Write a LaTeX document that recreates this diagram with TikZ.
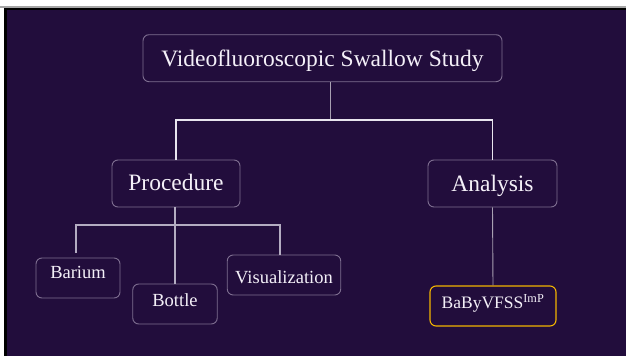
\documentclass[tikz,border=0pt]{standalone}
\usepackage{fontspec}
\setmainfont{Liberation Serif}
\definecolor{bgpurple}{HTML}{220D3C}
\definecolor{boxline}{HTML}{7E6E90}
\definecolor{wire}{HTML}{E8E4EE}
\definecolor{wiresoft}{HTML}{B4ACC2}
\definecolor{wiregray}{HTML}{A8A0B2}
\definecolor{gold}{HTML}{F2B400}
\definecolor{txt}{HTML}{F4F0F8}
\tikzset{
  box/.style={draw=boxline, line width=0.9pt, rounded corners=6pt, fill=bgpurple,
    text=txt, inner sep=0pt, align=center},
  bigbox/.style={box, minimum height=47pt, font=\fontsize{23.5}{26}\selectfont,
    text height=16pt, text depth=0pt},
  smallbox/.style={box, minimum height=40pt, font=\fontsize{18.5}{21}\selectfont},
  goldbox/.style={smallbox, draw=gold, line width=1.1pt},
  wmain/.style={draw=wire, line width=1.3pt},
  wsoft/.style={draw=wiresoft, line width=1.3pt},
  wthin/.style={draw=wiregray, line width=0.9pt}
}
\begin{document}
\begin{tikzpicture}[x=1pt,y=-1pt]
\useasboundingbox (0,0) rectangle (626,356);
\fill[white] (0,0) rectangle (626,356);
\fill[gray!70] (0,6) rectangle (626,8);
\fill[black] (4,8) rectangle (626,356);
\fill[bgpurple] (7,10) rectangle (626,356);

\node[bigbox, minimum width=359pt] (top) at (322.5,58.2) {Videofluoroscopic Swallow Study};
\node[bigbox, minimum width=128pt, text depth=3pt] (proc) at (176,183.5) {Procedure};
\node[bigbox, minimum width=129pt] (anal) at (492.5,183.5) {Analysis};
\node[smallbox, minimum width=84pt, text height=12pt, text depth=12pt] (bar) at (78,278) {Barium};
\node[smallbox, minimum width=84.5pt, text height=12pt, text depth=6.6pt] (bot) at (175,304) {Bottle};
\node[smallbox, minimum width=113.5pt, text height=16pt, text depth=0pt] (vis) at (284,275) {Visualization};
\node[goldbox, minimum width=126pt, text height=12pt, text depth=7.4pt,
  font=\fontsize{17.5}{20}\selectfont] (baby) at (493,306) {BaByVFSS\textsuperscript{ImP}};

\coordinate (j1) at (330,120);
\coordinate (j2) at (175,225);
\coordinate (barend) at (76,253);

\draw[wthin] (top.south -| j1) -- (j1);
\draw[wmain] (proc.north) -- (proc.north |- j1) -- (anal.north |- j1) -- (anal.north);
\draw[wsoft] (proc.south -| j2) -- (j2);
\draw[wsoft] (barend) -- (barend |- j2) -- (j2 -| 280,0) -- (vis.north -| 280,0);
\draw[wsoft] (j2) -- (bot.north -| j2);
\draw[wthin] (anal.south) -- (baby.north);
\end{tikzpicture}
\end{document}
